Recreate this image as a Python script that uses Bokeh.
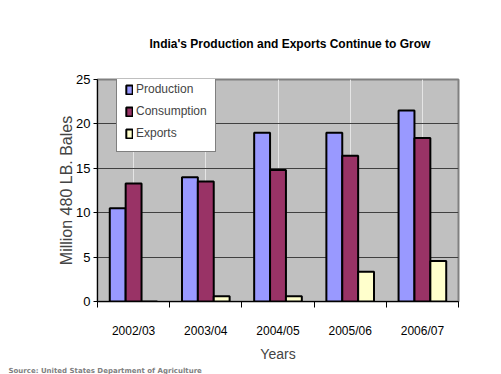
from bokeh.plotting import figure
from bokeh.models import (FactorRange, ColumnDataSource, Legend, LegendItem, SingleIntervalTicker,
                          FixedTicker, LinearAxis, Title)
from bokeh.transform import dodge
from bokeh.embed import file_html
from bokeh.resources import INLINE

years = ["2002/03", "2003/04", "2004/05", "2005/06", "2006/07"]
production = [10.5, 14.0, 19.0, 19.0, 21.5]
consumption = [13.3, 13.5, 14.8, 16.4, 18.4]
exports = [0.0, 0.6, 0.6, 3.35, 4.55]

src = ColumnDataSource(dict(years=years, production=production,
                            consumption=consumption, exports=exports))

FONT = "Liberation Sans"

p = figure(width=501, height=374, x_range=FactorRange(*years, range_padding=0),
           y_range=(0, 25), output_backend="svg", toolbar_location=None,
           x_axis_location=None,
           min_border_left=97, min_border_right=43, min_border_top=79, min_border_bottom=71)
p.border_fill_color = "white"
p.background_fill_color = "#C0C0C0"
p.outline_line_color = "#808080"
p.outline_line_width = 2

w = 0.22
r1 = p.vbar(x=dodge("years", -w, range=p.x_range), top="production", width=w, source=src,
            fill_color="#9999FF", line_color="black", line_width=2)
r2 = p.vbar(x=dodge("years", 0, range=p.x_range), top="consumption", width=w, source=src,
            fill_color="#993366", line_color="black", line_width=2)
r3 = p.vbar(x=dodge("years", w, range=p.x_range), top="exports", width=w, source=src,
            fill_color="#FFFFCC", line_color="black", line_width=2)

p.ygrid.grid_line_color = "#404040"
p.ygrid.grid_line_width = 1
p.yaxis.ticker = SingleIntervalTicker(interval=5)
p.yaxis.minor_tick_line_color = None
p.yaxis.major_tick_out = 4
p.yaxis.major_tick_in = 0
p.yaxis.major_label_standoff = 3
p.yaxis.major_label_text_font = FONT
p.yaxis.major_label_text_font_size = "13px"
p.yaxis.major_label_text_color = "black"
p.yaxis.axis_line_color = "black"
p.yaxis.axis_label = "Million 480 LB. Bales"
p.yaxis.axis_label_text_font = FONT
p.yaxis.axis_label_text_font_style = "normal"
p.yaxis.axis_label_text_font_size = "16px"
p.yaxis.axis_label_standoff = -2

# x axis: labels at category centres (synthetic coords), tick marks at category boundaries
n = len(years)
centres = [i + 0.5 for i in range(n)]
xax = LinearAxis(ticker=FixedTicker(ticks=centres, minor_ticks=list(range(n + 1))),
                 major_label_overrides={c: y for c, y in zip(centres, years)},
                 major_tick_out=0, major_tick_in=0, major_tick_line_color=None,
                 minor_tick_out=6, minor_tick_in=0, minor_tick_line_color="black",
                 axis_line_color="black", major_label_standoff=16,
                 major_label_text_font=FONT, major_label_text_font_size="12px",
                 major_label_text_color="black",
                 axis_label="Years", axis_label_text_font=FONT,
                 axis_label_text_font_style="normal", axis_label_text_font_size="14px",
                 axis_label_standoff=5)
p.add_layout(xax, "below")

src_title = Title(text="Source: United States Department of Agriculture", align="left",
                  offset=-89, standoff=0, text_font="DejaVu Sans", text_font_style="bold",
                  text_font_size="7px", text_color="#808080")
p.add_layout(src_title, "below")

p.title.text = "India's Production and Exports Continue to Grow"
p.title.align = "left"
p.title.offset = 52
p.title.standoff = 58
p.title.text_font = FONT
p.title.text_font_style = "bold"
p.title.text_font_size = "12px"
p.title.text_color = "black"

legend = Legend(items=[LegendItem(label="Production", renderers=[r1]),
                       LegendItem(label="Consumption", renderers=[r2]),
                       LegendItem(label="Exports", renderers=[r3])],
                location=(19, 149), background_fill_color="white", background_fill_alpha=1,
                border_line_color="black", border_line_width=1,
                label_text_font=FONT, label_text_font_size="12px",
                glyph_width=8, glyph_height=11, label_height=20, spacing=2,
                padding=8, margin=0, label_standoff=3)
p.add_layout(legend, "center")

open("out.html", "w").write(file_html(p, INLINE))
